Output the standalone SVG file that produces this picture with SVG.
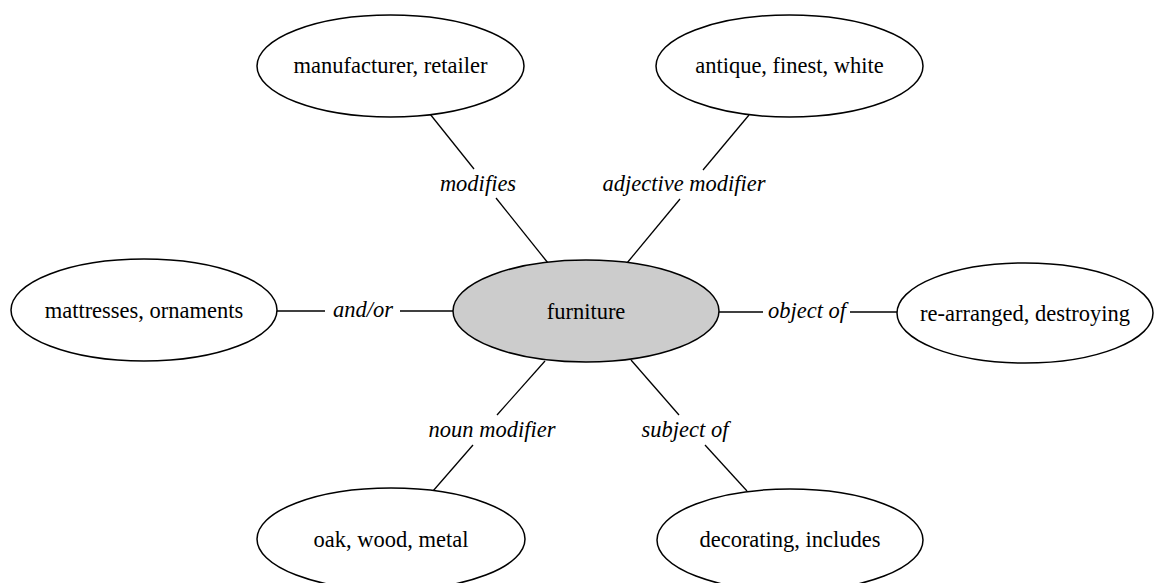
<svg xmlns="http://www.w3.org/2000/svg" width="1154" height="583" viewBox="0 0 1154 583" font-family="'Liberation Serif', 'Times New Roman', Times, 'DejaVu Serif', serif">
<style>
.node ellipse{fill:#ffffff;stroke:#000000;stroke-width:1.5}
.node.center ellipse{fill:#cccccc}
text{font-family:'Liberation Serif','Times New Roman',Times,'DejaVu Serif',serif;font-size:22.5px;fill:#000000;text-anchor:middle}
.edges line{stroke:#000000;stroke-width:1.3}
.edges text{font-style:italic}
</style>
<rect width="1154" height="583" fill="#ffffff"/>
<g id="connectors" class="edges">
<line x1="430" y1="114" x2="474" y2="169"/>
<line x1="496" y1="198" x2="548" y2="263"/>
<text x="478" y="191">modifies</text>
<line x1="749" y1="115" x2="703" y2="170"/>
<line x1="680" y1="199" x2="627" y2="263"/>
<text x="684" y="191">adjective modifier</text>
<line x1="277" y1="311" x2="325" y2="311"/>
<line x1="400" y1="311" x2="453" y2="311"/>
<text x="363" y="317">and/or</text>
<line x1="719" y1="312" x2="763" y2="312"/>
<line x1="850" y1="312" x2="897" y2="312"/>
<text x="807" y="318">object of</text>
<line x1="545" y1="361" x2="497" y2="415"/>
<line x1="473" y1="445" x2="433" y2="491"/>
<text x="492" y="437">noun modifier</text>
<line x1="631" y1="360" x2="679" y2="415"/>
<line x1="705" y1="445" x2="747" y2="491"/>
<text x="685" y="437">subject of</text>
</g>
<g id="node-furniture" class="node center">
<ellipse cx="586" cy="311" rx="133" ry="51"/>
<text x="586" y="319">furniture</text>
</g>
<g id="node-manufacturer" class="node">
<ellipse cx="390.5" cy="66" rx="133.5" ry="51"/>
<text x="390.5" y="73">manufacturer, retailer</text>
</g>
<g id="node-antique" class="node">
<ellipse cx="789.5" cy="66" rx="133.5" ry="51"/>
<text x="789.5" y="73">antique, finest, white</text>
</g>
<g id="node-mattresses" class="node">
<ellipse cx="144" cy="310" rx="133" ry="51"/>
<text x="144" y="318">mattresses, ornaments</text>
</g>
<g id="node-rearranged" class="node">
<ellipse cx="1025" cy="313" rx="128" ry="50"/>
<text x="1025" y="321">re-arranged, destroying</text>
</g>
<g id="node-oak" class="node">
<ellipse cx="391" cy="539" rx="134" ry="51"/>
<text x="391" y="547">oak, wood, metal</text>
</g>
<g id="node-decorating" class="node">
<ellipse cx="790" cy="540" rx="133" ry="51"/>
<text x="790" y="547">decorating, includes</text>
</g>
</svg>
